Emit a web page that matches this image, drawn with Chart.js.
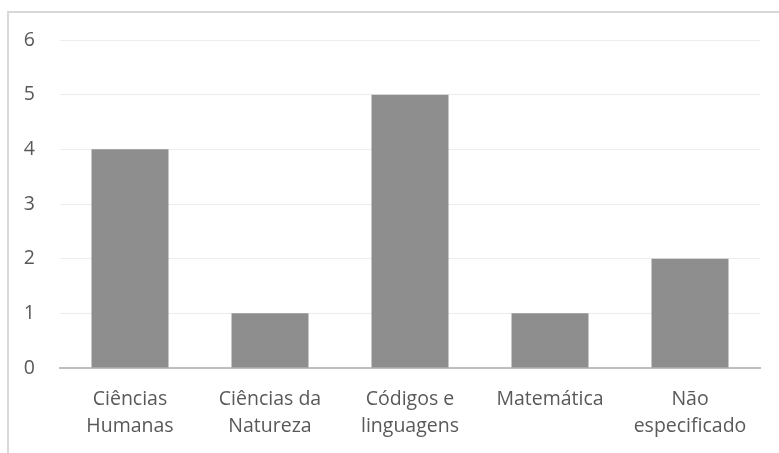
<!DOCTYPE html>
<html>
<head>
    <title>Áreas</title>
    <script src="https://cdn.jsdelivr.net/npm/chart.js"></script>
    <style>
        body { margin: 0; background: #fff; }
        #wrap { position: relative; width: 779px; height: 453px; overflow: hidden; }
        #frame { position: absolute; left: 7px; top: 11px; width: 900px; height: 600px;
                 border-top: 2px solid #d9d9d9; border-left: 2px solid #d9d9d9; }
        canvas { position: absolute; left: 0; top: 0; }
    </style>
</head>
<body>
<div id="wrap">
    <div id="frame"></div>
    <canvas id="areaChart" width="779" height="453"></canvas>
</div>
<script>
    // categories and counts
    var categories = [
        ['Ciências', 'Humanas'],
        ['Ciências da', 'Natureza'],
        ['Códigos e', 'linguagens'],
        ['Matemática'],
        ['Não', 'especificado']
    ];
    var counts = [4, 1, 5, 1, 2];
    var yTicks = [0, 1, 2, 3, 4, 5, 6];

    var tickFont = { family: "'Open Sans', 'Liberation Sans', sans-serif", size: 19.5, lineHeight: 1.38 };

    var ctx = document.getElementById('areaChart').getContext('2d');
    var chart = new Chart(ctx, {
        type: 'bar',
        data: {
            labels: categories,
            datasets: [{
                data: counts,
                backgroundColor: '#8e8e8e',
                borderWidth: 0,
                categoryPercentage: 1,
                barPercentage: 0.55
            }]
        },
        options: {
            responsive: false,
            animation: false,
            layout: {
                padding: { top: 40, right: 19, bottom: 0, left: 0 }
            },
            scales: {
                x: {
                    grid: { display: false, drawTicks: false },
                    border: { display: true, color: '#bfbfbf', width: 2 },
                    ticks: { color: '#595959', font: tickFont, maxRotation: 0, autoSkip: false, padding: 18 },
                    afterFit: function (scale) { scale.height = 85; }
                },
                y: {
                    min: 0,
                    max: yTicks[yTicks.length - 1],
                    grid: { color: '#ececec', lineWidth: 1, drawTicks: false },
                    border: { display: false },
                    ticks: { stepSize: 1, color: '#595959', font: tickFont, padding: 25 },
                    afterFit: function (scale) { scale.width = 60; }
                }
            },
            plugins: {
                legend: { display: false },
                tooltip: { enabled: false }
            }
        }
    });
</script>
</body>
</html>
